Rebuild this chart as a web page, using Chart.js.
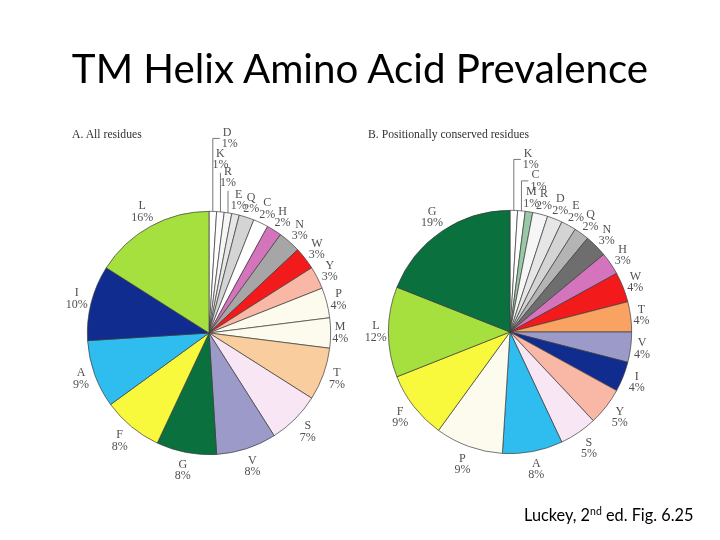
<!DOCTYPE html>
<html>
<head>
<meta charset="utf-8">
<script src="https://cdn.jsdelivr.net/npm/chart.js@4"></script>
<style>
  html, body { margin: 0; padding: 0; background: #fff; }
  #stage { position: relative; width: 720px; height: 540px; overflow: hidden; }
  #stage canvas { position: absolute; left: 0; top: 0; }
  .txt { position: absolute; line-height: 1; white-space: nowrap; }
  #title { left: 0; width: 720px; text-align: center; top: 43px; font: 40.3px Lato, sans-serif; color: #000; }
  .panel { top: 128px; font: 11.7px "Liberation Serif", serif; color: #333; }
  #caption { left: 524px; top: 505px; font: 16.3px Lato, sans-serif; color: #000; }
  #caption sup { font-size: 10.5px; vertical-align: 6px; line-height: 0; }
</style>
</head>
<body>
<div id="stage">
  <canvas id="pie-a" width="720" height="540"></canvas>
  <canvas id="pie-b" width="720" height="540"></canvas>
  <div class="txt" id="title">TM Helix Amino Acid Prevalence</div>
  <div class="txt panel" style="left:72px">A. All residues</div>
  <div class="txt panel" style="left:368px">B. Positionally conserved residues</div>
  <div class="txt" id="caption">Luckey, 2<sup>nd</sup> ed. Fig. 6.25</div>
</div>
<script>
// A. all residues, clockwise from 12 o'clock
const allLabels = ["D", "K", "R", "E", "Q", "C", "H", "N", "W", "Y", "P", "M", "T", "S", "V", "G", "F", "A", "I", "L"];
const allValues = [1, 1, 1, 1, 2, 2, 2, 3, 3, 3, 4, 4, 7, 7, 8, 8, 8, 9, 10, 16];

// B. positionally conserved residues
const conservedLabels = ["K", "C", "M", "R", "D", "E", "Q", "N", "H", "W", "T", "V", "I", "Y", "S", "A", "P", "F", "L", "G"];
const conservedValues = [1, 1, 1, 2, 2, 2, 2, 3, 3, 4, 4, 4, 4, 5, 5, 8, 9, 9, 12, 19];

const residueColor = {
  white: "#ffffff",
  offWhite: "#f6f6f6",
  paleGrey: "#e6e6e6",
  lightGrey: "#d4d4d4",
  midGrey: "#b4b4b4",
  grey: "#a6a6a6",
  darkGrey: "#6e6e6e",
  pink: "#d474bc",
  red: "#f21a1a",
  salmon: "#f9b8a6",
  ivory: "#fcfbee",
  peach: "#f9cd9e",
  blush: "#f9e6f4",
  lilac: "#9c9ac8",
  green: "#0a703e",
  yellow: "#f8f83c",
  sky: "#2fbdf0",
  navy: "#0f2c8e",
  lime: "#a6e03e",
  mint: "#98c8a6",
  orange: "#f9a262",
};

const allColors = [
  "white", "white", "offWhite", "paleGrey", "lightGrey", "white", "pink", "grey", "red", "salmon",
  "ivory", "ivory", "peach", "blush", "lilac", "green", "yellow", "sky", "navy", "lime",
].map((key) => residueColor[key]);

const conservedColors = [
  "white", "white", "mint", "offWhite", "paleGrey", "lightGrey", "midGrey", "darkGrey", "pink", "red",
  "orange", "lilac", "navy", "salmon", "blush", "sky", "ivory", "yellow", "lime", "green",
].map((key) => residueColor[key]);

// tiny slices whose labels sit on leader lines (rise above the rim, px)
const allLeaders = { D: { rise: 73, elbow: true }, K: { rise: 39 }, R: { rise: 22 } };
const conservedLeaders = { K: { rise: 51, elbow: true }, C: { rise: 30, elbow: true } };

const labelFont = '12px "Liberation Serif", "Times New Roman", serif';
const labelColor = "#505050";
const lineHeight = 11.5;

const sliceLabels = {
  id: "sliceLabels",
  afterDatasetsDraw(chart, args, opts) {
    const { ctx } = chart;
    const meta = chart.getDatasetMeta(0);
    const values = chart.data.datasets[0].data;
    ctx.save();
    ctx.font = labelFont;
    ctx.fillStyle = labelColor;
    ctx.strokeStyle = "#555";
    ctx.lineWidth = 0.8;
    ctx.textBaseline = "middle";
    ctx.textAlign = "center";
    meta.data.forEach((arc, index) => {
      const { x, y, startAngle, endAngle, outerRadius } = arc.getProps(["x", "y", "startAngle", "endAngle", "outerRadius"], true);
      const name = chart.data.labels[index];
      const pct = `${values[index]}%`;
      const mid = (startAngle + endAngle) / 2;
      const cos = Math.cos(mid);
      const sin = Math.sin(mid);
      const leader = opts.leaders[name];
      if (leader) {
        const ex = x + outerRadius * cos;
        const ey = y + outerRadius * sin;
        const top = ey - leader.rise;
        ctx.beginPath();
        ctx.moveTo(ex, ey);
        ctx.lineTo(ex, top);
        if (leader.elbow) ctx.lineTo(ex + 7, top);
        ctx.stroke();
        if (leader.elbow) {
          ctx.textAlign = "left";
          ctx.fillText(name, ex + 10, top - lineHeight / 2);
          ctx.fillText(pct, ex + 9, top + lineHeight / 2);
          ctx.textAlign = "center";
        } else {
          ctx.fillText(name, ex, top - lineHeight * 1.5 - 2);
          ctx.fillText(pct, ex, top - lineHeight / 2 - 2);
        }
        return;
      }
      const w = Math.max(ctx.measureText(name).width, ctx.measureText(pct).width);
      const extent = Math.abs(cos) * w / 2 + Math.abs(sin) * lineHeight;
      // labels under the pie sit a little further out
      const gap = 1.5 + 4 * Math.max(0, sin);
      const dist = outerRadius + gap + extent;
      const lx = x + dist * cos;
      const ly = y + dist * sin;
      ctx.fillText(name, lx, ly - lineHeight / 2);
      ctx.fillText(pct, lx, ly + lineHeight / 2);
    });
    ctx.restore();
  },
};

function makePie(canvasId, labels, values, colors, leaders, padding) {
  return new Chart(document.getElementById(canvasId), {
    type: "pie",
    data: {
      labels,
      datasets: [
        {
          data: values,
          backgroundColor: colors,
          borderColor: "#3c3c3c",
          borderWidth: 0.7,
          hoverOffset: 0,
        },
      ],
    },
    options: {
      responsive: false,
      animation: false,
      layout: { padding },
      plugins: {
        legend: { display: false },
        tooltip: { enabled: false },
        sliceLabels: { leaders },
      },
    },
    plugins: [sliceLabels],
  });
}

makePie("pie-a", allLabels, allValues, allColors, allLeaders, { left: 87, right: 389, top: 211, bottom: 85 });
makePie("pie-b", conservedLabels, conservedValues, conservedColors, conservedLeaders, { left: 388, right: 88, top: 210, bottom: 86 });
</script>
</body>
</html>
